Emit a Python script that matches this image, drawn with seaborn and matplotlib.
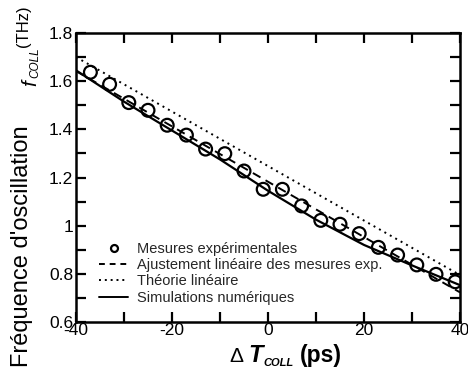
import numpy as np
import pandas as pd
import matplotlib
matplotlib.use("Agg")
import matplotlib.pyplot as plt
from matplotlib.lines import Line2D
from matplotlib.ticker import MultipleLocator
import seaborn as sns

# ---- data ----
meas_dt = [-37, -33, -29, -25, -21, -17, -13, -9, -5, -1, 3, 7, 11, 15, 19, 23, 27, 31, 35, 39]
meas_f = [1.637, 1.587, 1.511, 1.479, 1.417, 1.376, 1.318, 1.299, 1.227, 1.151,
          1.151, 1.082, 1.022, 1.006, 0.967, 0.910, 0.878, 0.837, 0.798, 0.767]

fit_dt = [-40, 40]
fit_f = [1.642, 0.723]

theory_dt = [-40, 40]
theory_f = [1.700, 0.795]

sim_dt = [-40, -30, -20, -10, 0, 10, 20, 30, 40]
sim_f = [1.645, 1.515, 1.395, 1.275, 1.145, 1.025, 0.920, 0.835, 0.753]

labels = ["Mesures expérimentales", "Ajustement linéaire des mesures exp.",
          "Théorie linéaire", "Simulations numériques"]
ytick_vals = [0.6, 0.8, 1.0, 1.2, 1.4, 1.6, 1.8]
ytick_text = ["0.6", "0.8", "1", "1.2", "1.4", "1.6", "1.8"]
xtick_vals = [-40, -20, 0, 20, 40]
xtick_text = ["-40", "-20", "0", "20", "40"]

sns.set_theme(style="ticks")
plt.rcParams["font.family"] = ["Liberation Sans", "DejaVu Sans"]

W, H = 468, 369
fig = plt.figure(figsize=(W / 100, H / 100), dpi=100)
ax = fig.add_axes([76 / W, 1 - 322 / H, 384 / W, 289 / H])

sns.lineplot(x=sim_dt, y=sim_f, ax=ax, color="black", lw=1.6, linestyle="-")
sns.lineplot(x=fit_dt, y=fit_f, ax=ax, color="black", lw=1.4, linestyle=(0, (4.5, 3)))
sns.lineplot(x=theory_dt, y=theory_f, ax=ax, color="black", lw=1.4, linestyle=(0, (1, 2.2)))
sns.scatterplot(x=meas_dt, y=meas_f, ax=ax, marker="o", s=85, facecolor="none",
                edgecolor="black", linewidth=1.6)

ax.set_xlim(-40, 40)
ax.set_ylim(0.6, 1.8)
ax.set_xticks(xtick_vals)
ax.set_xticklabels(xtick_text)
ax.set_yticks(ytick_vals)
ax.set_yticklabels(ytick_text)
ax.xaxis.set_minor_locator(MultipleLocator(10))
ax.yaxis.set_minor_locator(MultipleLocator(0.1))
for which in ("major", "minor"):
    ax.tick_params(axis="both", which=which, direction="in", length=7, width=1.6,
                   top=True, right=True, color="black")
ax.tick_params(axis="both", which="major", labelsize=12.5, labelcolor="black")
ax.tick_params(axis="x", which="major", pad=1)
ax.tick_params(axis="y", which="major", pad=2)
for s in ax.spines.values():
    s.set_linewidth(1.8)
    s.set_color("black")
ax.set_xlabel("")
ax.set_ylabel("")


def fx(px):
    return px / W


def fy(py):
    return 1 - py / H


# y label pieces (rotated, reading bottom to top)
rk = dict(rotation=90, rotation_mode="anchor", ha="left", va="baseline", color="black")
fig.text(fx(28), fy(367), "Fréquence d'oscillation", fontsize=17, **rk)
fig.text(fx(36), fy(86), "f", fontsize=15, style="italic", **rk)
fig.text(fx(38), fy(78), "COLL", fontsize=8.5, style="italic", **rk)
fig.text(fx(28), fy(47), "(THz)", fontsize=12, **rk)

# x label pieces
hk = dict(ha="left", va="baseline", color="black")
fig.text(fx(229), fy(362), "Δ", fontsize=15, **hk)
fig.text(fx(248), fy(362), "T", fontsize=17, fontweight="bold", style="italic", **hk)
fig.text(fx(263), fy(366), "COLL", fontsize=8, fontweight="bold", style="italic", **hk)
fig.text(fx(300), fy(362), "(ps)", fontsize=16.5, fontweight="bold", **hk)

handles = [
    Line2D([], [], linestyle="none", marker="o", markersize=5, markerfacecolor="none",
           markeredgecolor="black", markeredgewidth=1.6),
    Line2D([], [], color="black", lw=1.4, linestyle=(0, (3, 2.5))),
    Line2D([], [], color="black", lw=1.4, linestyle=(0, (1, 2))),
    Line2D([], [], color="black", lw=1.4, linestyle="-"),
]
ax.legend(handles, labels, loc="lower left", bbox_to_anchor=(0.06, 0.06), frameon=False,
          fontsize=10.5, labelspacing=0.15, handlelength=2.0, handletextpad=0.6, borderpad=0,
          borderaxespad=0)

fig.savefig("out.png", dpi=100)
